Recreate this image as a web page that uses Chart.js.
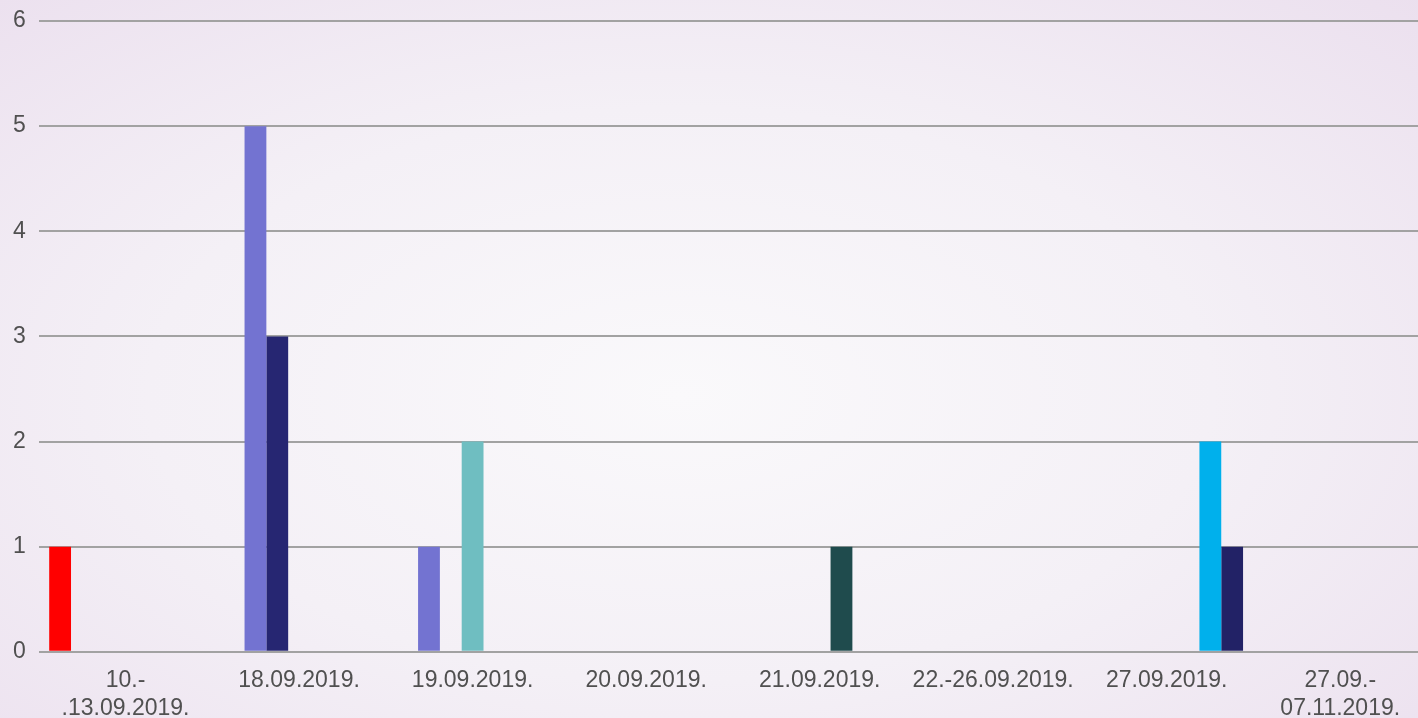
<!DOCTYPE html>
<html>
<head>
<meta charset="utf-8">
<script src="https://cdn.jsdelivr.net/npm/chart.js@4/dist/chart.umd.min.js"></script>
<style>
  html, body { margin: 0; padding: 0; overflow: hidden; }
  body {
    width: 1418px; height: 718px;
    background: radial-gradient(ellipse 75% 80% at 48% 55%, #faf9fb 0%, #f4f0f6 50%, #ebdfee 100%);
  }
  #wrap { position: absolute; left: 0; top: 0; width: 1427px; height: 737px; }
</style>
</head>
<body>
<div id="wrap"><canvas id="myChart"></canvas></div>
<script>
const categories = [
  ['10.-', '.13.09.2019.'],
  '18.09.2019.',
  '19.09.2019.',
  '20.09.2019.',
  '21.09.2019.',
  '22.-26.09.2019.',
  '27.09.2019.',
  ['27.09.-', '07.11.2019.'],
];

// one series per bar slot, left to right inside each group
const seriesA = [1, 0, 0, 0, 0, 0, 0, 0];
const seriesB = [0, 5, 1, 0, 0, 0, 0, 0];
const seriesC = [0, 3, 0, 0, 0, 0, 0, 0];
const seriesD = [0, 0, 2, 0, 0, 0, 0, 0];
const seriesE = [0, 0, 0, 0, 1, 0, 0, 0];
const seriesF = [0, 0, 0, 0, 0, 0, 2, 0];
const seriesG = [0, 0, 0, 0, 0, 0, 1, 0];

const yTicks = [0, 1, 2, 3, 4, 5, 6];

const colors = ['#ff0000', '#7373d1', '#262672', '#6fbec1', '#1f4b4d', '#00b0ec', '#222266'];

const series = [seriesA, seriesB, seriesC, seriesD, seriesE, seriesF, seriesG];

const data = {
  labels: categories,
  datasets: series.map((values, i) => ({
    label: 'S' + (i + 1),
    data: values,
    backgroundColor: colors[i],
    borderWidth: 0,
    categoryPercentage: 0.88,
    barPercentage: 1,
  })),
};

const config = {
  type: 'bar',
  data,
  options: {
    responsive: true,
    maintainAspectRatio: false,
    animation: false,
    layout: { padding: { top: 21, left: 0, right: 0, bottom: 0 } },
    plugins: {
      legend: { display: false },
      tooltip: { enabled: false },
    },
    scales: {
      x: {
        grid: { display: false, drawTicks: false },
        border: { display: false },
        ticks: {
          padding: 15,
          maxRotation: 0,
          autoSkip: false,
          color: '#505050',
          font: { family: "'Liberation Sans', Arial, sans-serif", size: 23 },
        },
      },
      y: {
        min: yTicks[0],
        max: yTicks[yTicks.length - 1],
        afterBuildTicks: (axis) => { axis.ticks = yTicks.map((v) => ({ value: v })); },
        // top tick label may stick out above the plot, like the original
        afterFit: (axis) => { axis.paddingTop = 0; axis.paddingBottom = 0; },
        grid: { color: '#a2a2a2', lineWidth: 2, drawTicks: false },
        border: { display: false },
        ticks: {
          padding: 13,
          color: '#505050',
          font: { family: "'Liberation Sans', Arial, sans-serif", size: 23 },
        },
      },
    },
  },
};

const ctx = document.getElementById('myChart').getContext('2d');
const myChart = new Chart(ctx, config);
</script>
</body>
</html>
